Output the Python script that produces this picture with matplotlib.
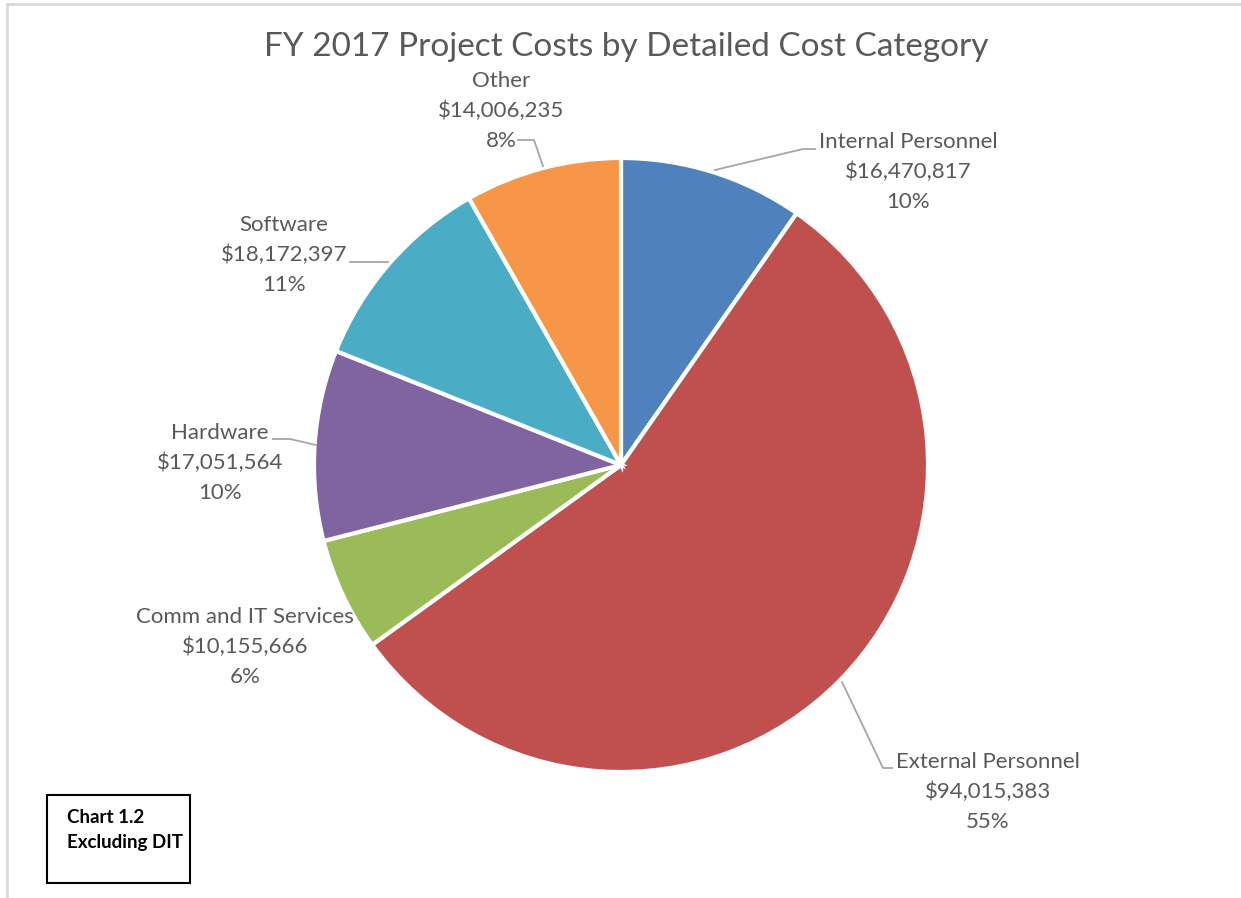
import matplotlib
matplotlib.use("Agg")
import matplotlib.pyplot as plt
from matplotlib.patches import Rectangle
from matplotlib.lines import Line2D

categories = ["Internal Personnel", "External Personnel", "Comm and IT Services",
              "Hardware", "Software", "Other"]
values = [16470817, 94015383, 10155666, 17051564, 18172397, 14006235]
colors = ["#4F81BD", "#C0504D", "#9BBB59", "#8064A2", "#4BACC6", "#F79646"]
title = "FY 2017 Project Costs by Detailed Cost Category"

W, H = 1241, 898
fig = plt.figure(figsize=(W / 100, H / 100), dpi=100)
plt.rcParams['font.family'] = ['Lato', 'DejaVu Sans']

# pie centre and radius in pixels
cx, cy, R = 621, 465, 307
ax = fig.add_axes([(cx - R) / W, (H - cy - R) / H, 2 * R / W, 2 * R / H])

ax.pie(values, colors=colors, startangle=90, counterclock=False, radius=1,
       wedgeprops=dict(edgecolor='white', linewidth=3))
ax.set_xlim(-1, 1)
ax.set_ylim(-1, 1)
ax.set_aspect('equal')
ax.axis('off')

total = sum(values)
txtcol = "#595959"
linecol = "#A6A6A6"


def d(px, py):
    return ((px - cx) / R, (cy - py) / R)


# label centres (pixels) and leader line paths (pixels)
label_pos = {
    "Internal Personnel": (908, 172),
    "External Personnel": (988, 792),
    "Comm and IT Services": (245, 647),
    "Hardware": (220, 463),
    "Software": (284, 255),
    "Other": (501, 111),
}
leaders = {
    "Internal Personnel": [(815, 149), (803, 149), (715, 170)],
    "External Personnel": [(892, 768), (883, 768), (842, 682)],
    "Hardware": [(273, 439), (290, 439), (316, 445)],
    "Software": [(350, 262), (388, 262)],
    "Other": [(518, 140), (534, 140), (543, 166)],
}

for cat, v in zip(categories, values):
    pct = round(100 * v / total)
    txt = f"{cat}\n${v:,.0f}\n{pct}%"
    x, y = d(*label_pos[cat])
    ax.text(x, y, txt, ha='center', va='center', fontsize=16, color=txtcol,
            linespacing=1.58, clip_on=False)
    if cat in leaders:
        pts = [d(*p) for p in leaders[cat]]
        ax.add_line(Line2D([p[0] for p in pts], [p[1] for p in pts],
                           color=linecol, lw=1.3, clip_on=False))

fig.text(626 / W, 1 - 47 / H, title, ha='center', va='center', fontsize=24,
         color=txtcol)

# outer frame (light grey)
fig.add_artist(Line2D([7 / W, 7 / W], [0, 1 - 4 / H], color="#D9D9D9", lw=2,
                      transform=fig.transFigure))
fig.add_artist(Line2D([7 / W, 1], [1 - 4 / H, 1 - 4 / H], color="#D9D9D9", lw=2,
                      transform=fig.transFigure))

# chart box
fig.add_artist(Rectangle((47 / W, 1 - 883 / H), 143 / W, 88 / H, fill=False,
                         edgecolor='black', lw=1.5, transform=fig.transFigure))
fig.text(67 / W, 1 - 830 / H, "Chart 1.2\nExcluding DIT", ha='left', va='center',
         fontsize=13.5, fontweight='bold', color='black', linespacing=1.63)

fig.savefig("out.png", dpi=100)
